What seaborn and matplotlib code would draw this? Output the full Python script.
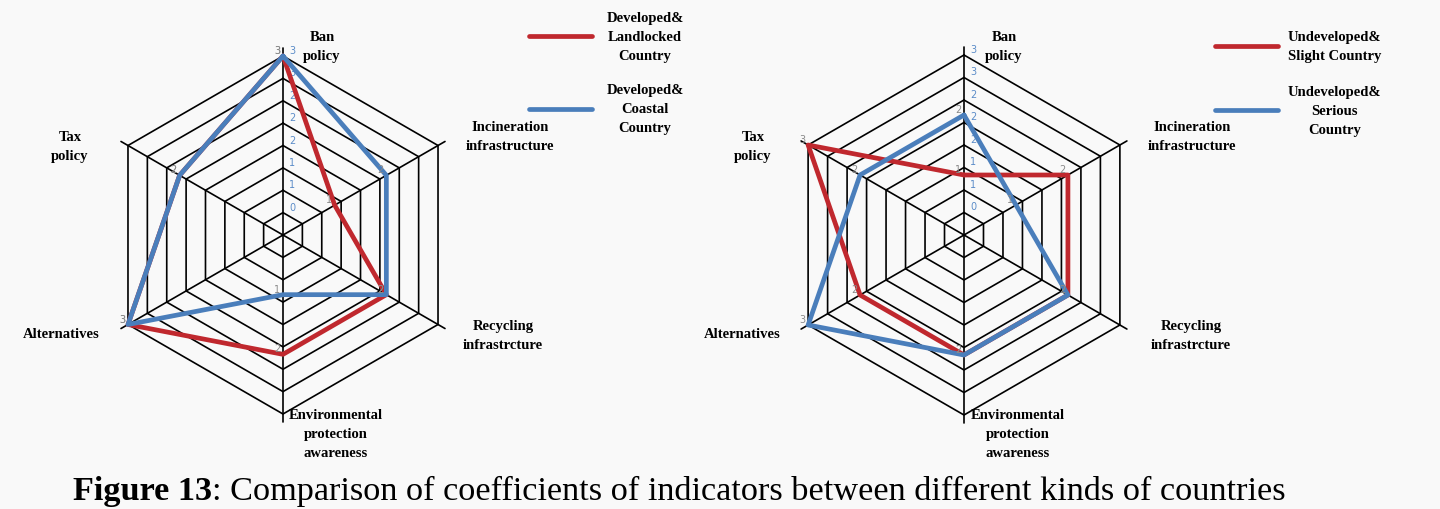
import numpy as np
import pandas as pd
import seaborn as sns
import matplotlib.pyplot as plt
from matplotlib.lines import Line2D

sns.set_theme(style="white")
plt.rcParams['font.family'] = ['Liberation Serif', 'DejaVu Serif']
plt.rcParams['text.color'] = 'black'

# categories (clockwise from top)
categories = ['Ban\npolicy', 'Incineration\ninfrastructure', 'Recycling\ninfrastrcture',
              'Environmental\nprotection\nawareness', 'Alternatives', 'Tax\npolicy']

# developed countries
landlocked = [3, 1, 2, 2, 3, 2]
coastal = [3, 2, 2, 1, 3, 2]
# undeveloped countries
slight = [1, 2, 2, 2, 2, 3]
serious = [2, 1, 2, 2, 3, 2]

left_names = ['Developed&\nLandlocked\nCountry', 'Developed&\nCoastal\nCountry']
right_names = ['Undeveloped&\nSlight Country', 'Undeveloped&\nSerious\nCountry']

r_max = 3.0
n_rings = 8

RED = '#C0282E'
BLUE = '#4A7EBB'
W, H = 1440, 510

fig = plt.figure(figsize=(W / 100, H / 100), dpi=100)
fig.patch.set_facecolor('#f9f9f9')


def fx(x):
    return x / W


def fy(y):
    return 1 - y / H


def radar(cx, cy, R, s1, s2, names, label_pos, leg_anchor, leg_pad, leg_space):
    ax = fig.add_axes([fx(cx - R), fy(cy + R), 2 * R / W, 2 * R / H], projection='polar')
    ax.set_theta_offset(np.pi / 2)
    ax.set_theta_direction(-1)
    ax.set_ylim(0, r_max)
    ax.set_axis_off()

    n = len(categories)
    theta = np.linspace(0, 2 * np.pi, n + 1)

    # hexagon rings
    rings = np.linspace(0, r_max, n_rings + 1)[1:]
    for r in rings:
        ax.plot(theta, [r] * (n + 1), color='black', lw=1.2, clip_on=False, zorder=1)
    # spokes
    for t in theta[:-1]:
        ax.plot([t, t], [0, r_max * 1.045], color='black', lw=1.2, clip_on=False, zorder=1)
    # value labels on the vertical axis
    for r in rings:
        ax.annotate('{:.0f}'.format(r), xy=(0, r), xytext=(9, 6), textcoords='offset pixels',
                    fontsize=7, color='#5b8cc8', ha='center', va='center',
                    family=['DejaVu Sans'], zorder=3)

    df = pd.DataFrame({
        'theta': np.concatenate([theta, theta]),
        'value': s1 + s1[:1] + s2 + s2[:1],
        'series': [names[0]] * (n + 1) + [names[1]] * (n + 1),
    })
    sns.lineplot(data=df, x='theta', y='value', hue='series', palette=[RED, BLUE],
                 sort=False, estimator=None, legend=False, lw=3.4, ax=ax, clip_on=False,
                 zorder=4)

    # data labels
    for vals in (s1, s2):
        for t, v in zip(theta[:-1], vals):
            ax.annotate(str(v), xy=(t, v), xytext=(-6, 6), textcoords='offset pixels',
                        fontsize=7, color='#8a8a8a', ha='center', va='center',
                        family=['DejaVu Sans'], zorder=5)

    # category labels
    for lab, (x, y) in zip(categories, label_pos):
        fig.text(fx(x), fy(y), lab, ha='center', va='center', ma='center',
                 fontsize=10.5, fontweight='bold', linespacing=1.6)

    handles = [Line2D([], [], color=RED, lw=3.4), Line2D([], [], color=BLUE, lw=3.4)]
    leg = ax.legend(handles, names, loc='upper left', bbox_to_anchor=(fx(leg_anchor[0]), fy(leg_anchor[1])),
                    bbox_transform=fig.transFigure, frameon=False, handlelength=4.3,
                    handletextpad=leg_pad, labelspacing=leg_space, borderpad=0, borderaxespad=0,
                    prop={'family': 'Liberation Serif', 'weight': 'bold', 'size': 10.5})
    for t in leg.get_texts():
        t.set_multialignment('center')
        t.set_linespacing(1.6)
    return ax


radar(283, 236, 179, landlocked, coastal, left_names,
      [(322, 47), (510, 137), (503, 336), (336, 435), (61, 335), (70, 147)],
      (529, 12), 1.0, 1.45)
radar(964, 236, 180, slight, serious, right_names,
      [(1004, 47), (1192, 137), (1191, 336), (1018, 435), (742, 335), (753, 147)],
      (1215, 31), 0.7, 1.55)

# caption
t1 = fig.text(fx(73), fy(507), 'Figure 13', fontsize=24.7, fontweight='bold', va='bottom', ha='left')
fig.canvas.draw()
bb = t1.get_window_extent()
fig.text(bb.x1 / W, fy(507), ': Comparison of coefficients of indicators between different kinds of countries',
         fontsize=24.7, va='bottom', ha='left')

fig.savefig('out.png', dpi=100, facecolor=fig.get_facecolor())
